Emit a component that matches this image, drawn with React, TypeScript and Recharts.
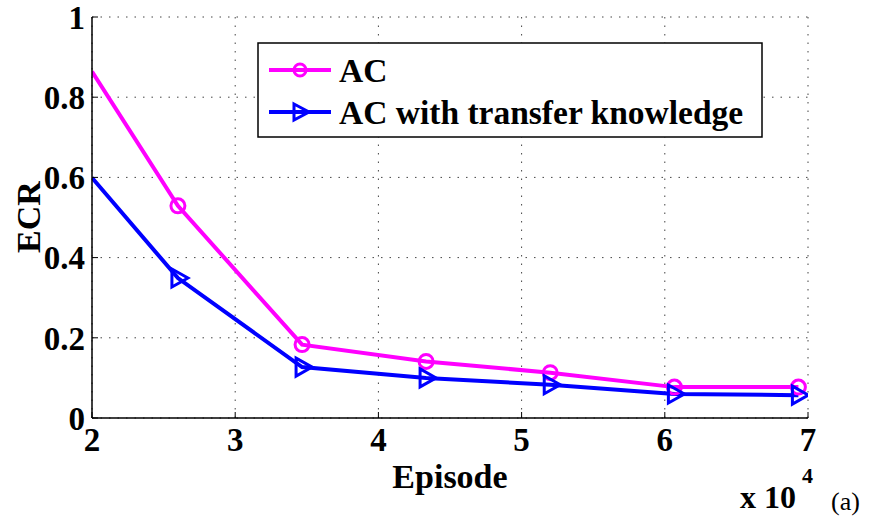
import React from 'react';
import { LineChart, Line, XAxis, YAxis, CartesianGrid } from 'recharts';

const episodes = [2, 2.6, 3.467, 4.333, 5.2, 6.067, 6.933];
const acValues = [0.864, 0.529, 0.183, 0.141, 0.113, 0.077, 0.077];
const transferValues = [0.599, 0.349, 0.127, 0.1, 0.083, 0.06, 0.057];
const xTicks = [2, 3, 4, 5, 6, 7];
const yTicks = [0, 0.2, 0.4, 0.6, 0.8, 1];

const data = episodes.map((e, i) => ({ e, ac: acValues[i], tr: transferValues[i] }));

const FONT = '"Liberation Serif", "DejaVu Serif", serif';

const CircleDot = (props: any) => {
  const { cx, cy, index } = props;
  if (index === 0 || cx == null) return <g key={`c${index}`} />;
  return <circle key={`c${index}`} cx={cx} cy={cy} r={7} fill="none" stroke="#FF00FF" strokeWidth={3} />;
};

const TriDot = (props: any) => {
  const { cx, cy, index } = props;
  if (index === 0 || cx == null) return <g key={`t${index}`} />;
  const pts = `${cx - 6},${cy - 9} ${cx + 10},${cy} ${cx - 6},${cy + 9}`;
  return <polygon key={`t${index}`} points={pts} fill="none" stroke="#0000FF" strokeWidth={3} strokeLinejoin="miter" />;
};

export default function App() {
  const tickStyle = { fill: '#000', fontSize: 33, fontWeight: 'bold', fontFamily: FONT };
  return (
    <div style={{ position: 'absolute', left: 0, top: 0, width: 871, height: 529, background: '#fff' }}>
      <LineChart width={871} height={529} data={data} margin={{ top: 17, right: 63, bottom: 0, left: 0 }}>
        <CartesianGrid xAxisId="b" yAxisId="l" stroke="#444" strokeDasharray="1.5 7" strokeWidth={1} />
        <XAxis
          xAxisId="b"
          dataKey="e"
          type="number"
          domain={[2, 7]}
          ticks={xTicks}
          interval={0}
          allowDataOverflow
          tickSize={-6}
          tickMargin={16}
          axisLine={{ stroke: '#000', strokeWidth: 1.5 }}
          tickLine={{ stroke: '#000' }}
          tick={tickStyle}
          height={111}
        />
        <XAxis
          xAxisId="t"
          orientation="top"
          dataKey="e"
          type="number"
          domain={[2, 7]}
          ticks={xTicks}
          interval={0}
          tickSize={-6}
          tickFormatter={() => ''}
          axisLine={{ stroke: '#000', strokeWidth: 1.5 }}
          tickLine={{ stroke: '#000' }}
          height={0}
        />
        <YAxis
          yAxisId="l"
          type="number"
          domain={[0, 1]}
          ticks={yTicks}
          interval={0}
          tickSize={-6}
          tickMargin={13}
          tickFormatter={(v: number) => (v === 0 || v === 1 ? String(v) : v.toFixed(1))}
          axisLine={{ stroke: '#000', strokeWidth: 1.5 }}
          tickLine={{ stroke: '#000' }}
          tick={tickStyle}
          width={92}
        />
        <YAxis
          yAxisId="r"
          orientation="right"
          type="number"
          domain={[0, 1]}
          ticks={yTicks}
          interval={0}
          tickSize={-6}
          tickFormatter={() => ''}
          axisLine={{ stroke: '#000', strokeWidth: 1.5 }}
          tickLine={{ stroke: '#000' }}
          width={0}
        />
        <Line
          xAxisId="b"
          yAxisId="l"
          dataKey="ac"
          stroke="#FF00FF"
          strokeWidth={4}
          dot={CircleDot}
          isAnimationActive={false}
        />
        <Line
          xAxisId="b"
          yAxisId="l"
          dataKey="tr"
          stroke="#0000FF"
          strokeWidth={4}
          dot={TriDot}
          isAnimationActive={false}
        />
      </LineChart>
      <div style={{ position: 'absolute', left: 0, top: 0, pointerEvents: 'none' }}>
        <svg width={871} height={529}>
          <g transform="translate(257,42)">
            <rect x={1} y={1} width={504} height={94} fill="#fff" stroke="#000" strokeWidth={1.5} />
            <line x1={12} y1={28} x2={74} y2={28} stroke="#FF00FF" strokeWidth={4} />
            <circle cx={43} cy={28} r={6} fill="none" stroke="#FF00FF" strokeWidth={3} />
            <text x={82} y={40} fontFamily={FONT} fontWeight="bold" fontSize={33.5} fill="#000">AC</text>
            <line x1={12} y1={70} x2={74} y2={70} stroke="#0000FF" strokeWidth={4} />
            <polygon points="37,62 52,70 37,78" fill="none" stroke="#0000FF" strokeWidth={3} />
            <text x={82} y={82} fontFamily={FONT} fontWeight="bold" fontSize={33.5} fill="#000">AC with transfer knowledge</text>
          </g>
          <text x={450} y={488} textAnchor="middle" fontFamily={FONT} fontWeight="bold" fontSize={34} fill="#000">Episode</text>
          <text x={0} y={0} transform="translate(40,217) rotate(-90)" textAnchor="middle" fontFamily={FONT} fontWeight="bold" fontSize={34} fill="#000">ECR</text>
          <text x={740} y={508} fontFamily={FONT} fontWeight="bold" fontSize={32} fill="#000">x 10</text>
          <text x={802} y={483} fontFamily={FONT} fontWeight="bold" fontSize={22} fill="#000">4</text>
          <text x={831} y={510} fontFamily={FONT} fontSize={26} fill="#000">(a)</text>
        </svg>
      </div>
    </div>
  );
}
